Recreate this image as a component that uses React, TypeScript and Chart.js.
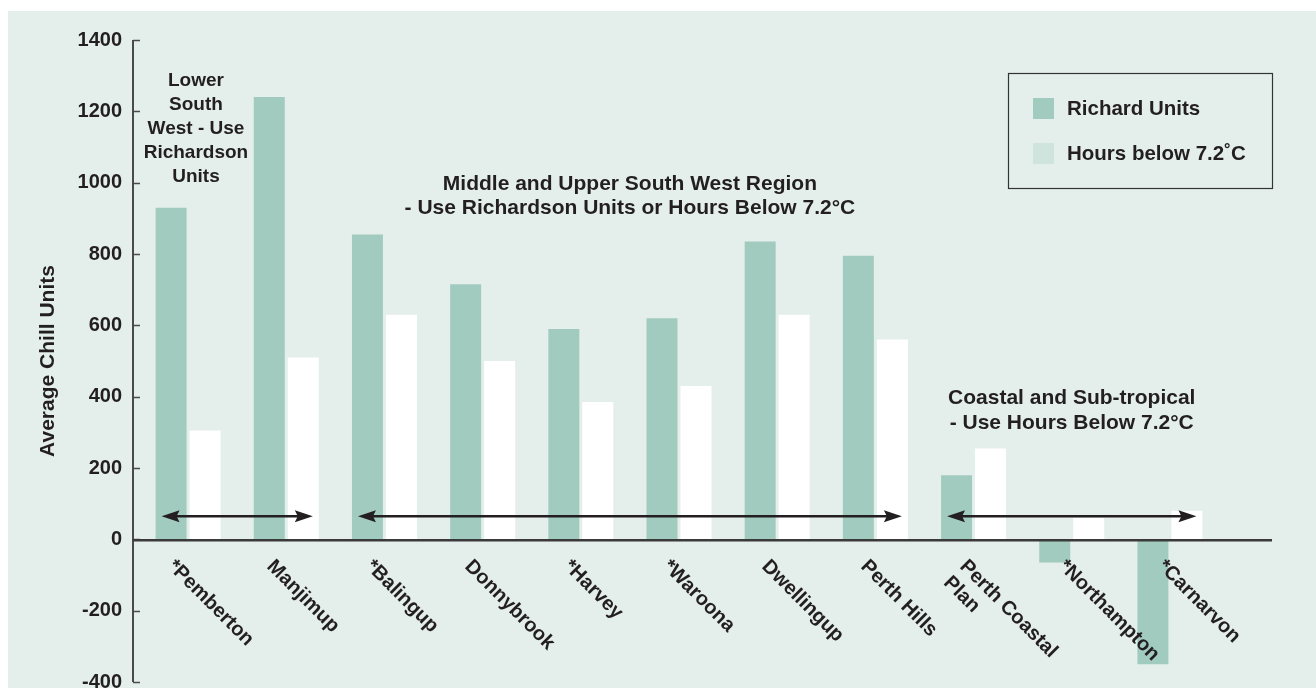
import { useEffect, useRef } from "react";
import { Chart, registerables } from "chart.js";

Chart.register(...registerables);

// ---- data ----
const categories: (string | string[])[] = [
  "*Pemberton",
  "Manjimup",
  "*Balingup",
  "Donnybrook",
  "*Harvey",
  "*Waroona",
  "Dwellingup",
  "Perth Hills",
  ["Perth Coastal", "Plan"],
  "*Northampton",
  "*Carnarvon",
];
const richardUnits = [930, 1240, 855, 715, 590, 620, 835, 795, 180, -65, -350];
const hoursBelow72 = [305, 510, 630, 500, 385, 430, 630, 560, 255, 60, 80];
const seriesNames = ["Richard Units", "Hours below 7.2\u02DAC"];
const yTicks = [-400, -200, 0, 200, 400, 600, 800, 1000, 1200, 1400];
const yTitle = "Average Chill Units";

const regionNotes = [
  { lines: ["Lower", "South", "West - Use", "Richardson", "Units"], at: 0.08, value: 1285, size: 19, lh: 24 },
  {
    lines: ["Middle and Upper South West Region", "- Use Richardson Units or Hours Below 7.2\u00B0C"],
    at: 4.5,
    value: 995,
    size: 21,
    lh: 24,
  },
  { lines: ["Coastal and Sub-tropical", "- Use Hours Below 7.2\u00B0C"], at: 9, value: 395, size: 21, lh: 25 },
];
const regionArrows = [
  { from: 0, to: 1 },
  { from: 2, to: 7 },
  { from: 8, to: 10 },
];
const arrowValue = 65;

// ---- styles ----
const FONT = '"Liberation Sans", Arial, Helvetica, sans-serif';
const INK = "#231f20";
const GREEN = "#a2cbbf";
const WHITE = "#ffffff";
const PALE = "#cfe4dc";
const BG = "#e4efeb";

const decor = {
  id: "decor",
  afterDatasetsDraw(chart: any) {
    const { ctx, chartArea: ca } = chart;
    const x = chart.scales.x;
    const y = chart.scales.y;
    ctx.save();

    const axisX = ca.left - 6;
    const y0 = y.getPixelForValue(0);

    // y axis line and inward ticks
    ctx.strokeStyle = "#4a4a4a";
    ctx.lineWidth = 2;
    ctx.beginPath();
    ctx.moveTo(axisX, y.getPixelForValue(yTicks[yTicks.length - 1]));
    ctx.lineTo(axisX, y.getPixelForValue(yTicks[0]));
    ctx.stroke();
    ctx.lineWidth = 1.5;
    for (const v of yTicks) {
      const py = Math.round(y.getPixelForValue(v)) + 0.5;
      ctx.beginPath();
      ctx.moveTo(axisX, py);
      ctx.lineTo(axisX + 7, py);
      ctx.stroke();
    }

    // x axis line
    ctx.strokeStyle = "#3a3a3a";
    ctx.lineWidth = 2.5;
    ctx.beginPath();
    ctx.moveTo(axisX, y0 + 1);
    ctx.lineTo(ca.right + 53, y0 + 1);
    ctx.stroke();

    // arrows
    const cw = x.getPixelForValue(1) - x.getPixelForValue(0);
    const ay = y.getPixelForValue(arrowValue);
    ctx.strokeStyle = INK;
    ctx.fillStyle = INK;
    for (const a of regionArrows) {
      const l = x.getPixelForValue(a.from) - 0.27 * cw;
      const r = x.getPixelForValue(a.to) + 0.27 * cw;
      ctx.lineWidth = 2.5;
      ctx.beginPath();
      ctx.moveTo(l + 8, ay);
      ctx.lineTo(r - 8, ay);
      ctx.stroke();
      ctx.beginPath();
      ctx.moveTo(l, ay);
      ctx.lineTo(l + 18, ay - 6);
      ctx.lineTo(l + 15, ay);
      ctx.lineTo(l + 18, ay + 6);
      ctx.closePath();
      ctx.fill();
      ctx.beginPath();
      ctx.moveTo(r, ay);
      ctx.lineTo(r - 18, ay - 6);
      ctx.lineTo(r - 15, ay);
      ctx.lineTo(r - 18, ay + 6);
      ctx.closePath();
      ctx.fill();
    }

    // region notes
    ctx.fillStyle = INK;
    ctx.textAlign = "center";
    ctx.textBaseline = "middle";
    for (const n of regionNotes) {
      ctx.font = `bold ${n.size}px ${FONT}`;
      const cx = x.getPixelForValue(n.at);
      const top = y.getPixelForValue(n.value);
      n.lines.forEach((t, i) => ctx.fillText(t, cx, top + i * n.lh));
    }

    // category labels, rotated 45deg clockwise
    ctx.font = `bold 20px ${FONT}`;
    ctx.textAlign = "left";
    ctx.textBaseline = "top";
    categories.forEach((lab, i) => {
      const cx = x.getPixelForValue(i);
      const lines = Array.isArray(lab) ? lab : [lab];
      ctx.save();
      ctx.translate(cx - 10 + 0.8 * i, y0 + 17);
      ctx.rotate(Math.PI / 4);
      lines.forEach((t, k) => ctx.fillText(t, 0, k * 23));
      ctx.restore();
    });

    // y title
    ctx.save();
    ctx.translate(ca.left - 91, (ca.top + ca.bottom) / 2);
    ctx.rotate(-Math.PI / 2);
    ctx.textAlign = "center";
    ctx.textBaseline = "middle";
    ctx.font = `bold 21px ${FONT}`;
    ctx.fillText(yTitle, 0, 0);
    ctx.restore();

    // legend box
    const bx = ca.right - 211;
    const by = ca.top + 33;
    ctx.strokeStyle = "#333333";
    ctx.lineWidth = 1.2;
    ctx.strokeRect(bx + 0.5, by + 0.5, 264, 115);
    const sw = [GREEN, PALE];
    seriesNames.forEach((name, i) => {
      const sy = by + 25 + i * 45;
      ctx.fillStyle = sw[i];
      ctx.fillRect(bx + 25, sy, 21, 21);
      ctx.fillStyle = INK;
      ctx.textAlign = "left";
      ctx.textBaseline = "middle";
      ctx.font = `bold 20.5px ${FONT}`;
      ctx.fillText(name, bx + 59, sy + 11);
    });

    ctx.restore();
  },
};

export default function App() {
  const ref = useRef<HTMLCanvasElement | null>(null);

  useEffect(() => {
    document.documentElement.style.overflow = "hidden";
    document.body.style.overflow = "hidden";
    const canvas = ref.current;
    if (!canvas) return;
    const chart = new Chart(canvas, {
      type: "bar",
      data: {
        labels: categories as any,
        datasets: [
          {
            label: seriesNames[0],
            data: richardUnits,
            backgroundColor: GREEN,
            borderWidth: 0,
            categoryPercentage: 0.6925,
            barPercentage: 0.912,
          },
          {
            label: seriesNames[1],
            data: hoursBelow72,
            backgroundColor: WHITE,
            borderWidth: 0,
            categoryPercentage: 0.6925,
            barPercentage: 0.912,
          },
        ],
      },
      options: {
        animation: false,
        responsive: false,
        maintainAspectRatio: false,
        devicePixelRatio: 1,
        layout: { padding: { left: 31, right: 97, top: 29, bottom: 28 } },
        plugins: {
          legend: { display: false },
          tooltip: { enabled: false },
          title: { display: false },
        },
        scales: {
          x: { display: false, grid: { display: false } },
          y: {
            min: yTicks[0],
            max: yTicks[yTicks.length - 1],
            afterBuildTicks: (s: any) => {
              s.ticks = yTicks.map((v) => ({ value: v }));
            },
            afterFit: (s: any) => {
              s.width = 100;
            },
            ticks: {
              font: { family: FONT, size: 20, weight: "bold" },
              color: INK,
              padding: 17,
              callback: (v: any) => String(v),
            },
            grid: { display: false, drawTicks: false },
            border: { display: false },
          },
        },
      },
      plugins: [decor],
    });
    return () => chart.destroy();
  }, []);

  return (
    <div
      style={{
        position: "fixed",
        left: 8,
        top: 11,
        width: 1308,
        height: 700,
        background: BG,
        overflow: "hidden",
      }}
    >
      <canvas ref={ref} width={1308} height={700} style={{ display: "block", width: 1308, height: 700 }} />
    </div>
  );
}
